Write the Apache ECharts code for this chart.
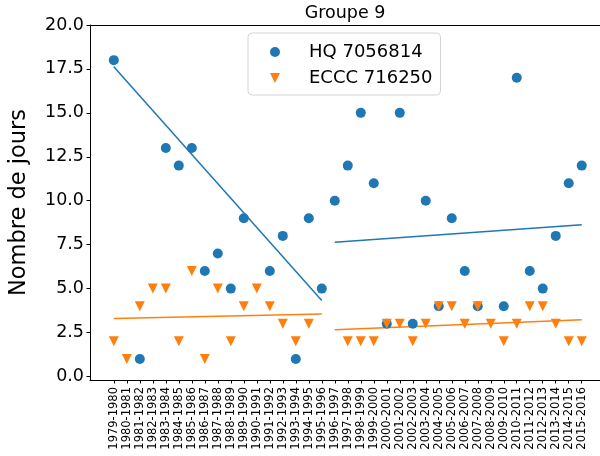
<!DOCTYPE html>
<html>
<head>
<meta charset="utf-8">
<script src="https://cdn.jsdelivr.net/npm/echarts@6/dist/echarts.min.js"></script>
<style>
  html, body { margin: 0; padding: 0; background: #fff; }
  #chart { width: 600px; height: 456px; }
</style>
</head>
<body>
<div id="chart"></div>
<script>
// Winter seasons
const seasons = [
  '1979-1980','1980-1981','1981-1982','1982-1983','1983-1984','1984-1985','1985-1986',
  '1986-1987','1987-1988','1988-1989','1989-1990','1990-1991','1991-1992','1992-1993',
  '1993-1994','1994-1995','1995-1996','1996-1997','1997-1998','1998-1999','1999-2000',
  '2000-2001','2001-2002','2002-2003','2003-2004','2004-2005','2005-2006','2006-2007',
  '2007-2008','2008-2009','2009-2010','2010-2011','2011-2012','2012-2013','2013-2014',
  '2014-2015','2015-2016'
];

// Number of days per season (null = no data)
const hqDays = [
  18, null, 1, null, 13, 12, 13, 6, 7, 5, 9, null, 6, 8, 1, 9, 5,
  10, 12, 15, 11, 3, 15, 3, 10, 4, 9, 6, 4, null, 4, 17, 6, 5, 8, 11, 12
];
const ecccDays = [
  2, 1, 4, 5, 5, 2, 6, 1, 5, 2, 4, 5, 4, 3, 2, 3, null,
  null, 2, 2, 2, 3, 3, 2, 3, 4, 4, 3, 4, 3, 2, 3, 4, 4, 3, 2, 2
];

// Trend segments per period: [startIndex, startValue, endIndex, endValue]
const hqTrend1 = [0, 17.63, 16, 4.32];
const hqTrend2 = [17, 7.64, 36, 8.63];
const ecccTrend1 = [0, 3.30, 16, 3.55];
const ecccTrend2 = [17, 2.66, 36, 3.23];

const yTicks = [0, 2.5, 5, 7.5, 10, 12.5, 15, 17.5, 20];

const BLUE = '#1f77b4';
const ORANGE = '#ff7f0e';
const FONT = 'DejaVu Sans';

const toPoints = arr => arr.map((v, i) => v == null ? null : [i, v]).filter(p => p);
const seg = s => [[s[0], s[1]], [s[2], s[3]]];
const xIdx = seasons.map((_, i) => i);

const chart = echarts.init(document.getElementById('chart'), null, { renderer: 'canvas' });

const trendLine = (data, color) => ({
  type: 'line',
  data: seg(data),
  showSymbol: false,
  symbol: 'none',
  silent: true,
  lineStyle: { color: color, width: 1.5 },
  z: 1,
  animation: false
});

// The plot frame runs past the right edge of the canvas, so only the
// left, bottom and top spines are drawn.
const X_MIN = -1.832;
const X_MAX = 37.405;

chart.setOption({
  animation: false,
  textStyle: { fontFamily: FONT },
  title: {
    text: 'Groupe 9',
    left: 345,
    textAlign: 'center',
    top: 4,
    padding: 0,
    textStyle: { fontFamily: FONT, fontSize: 17.5, fontWeight: 'normal', color: '#000' }
  },
  legend: {
    orient: 'vertical',
    left: 248,
    top: 33,
    padding: [10, 8, 8, 22],
    itemGap: 8,
    itemWidth: 10,
    itemHeight: 10,
    borderColor: '#d4d4d4',
    borderWidth: 1,
    borderRadius: 4,
    backgroundColor: 'rgba(255,255,255,0.8)',
    textStyle: { fontFamily: FONT, fontSize: 18, color: '#000', padding: [0, 0, 0, 24] },
    data: [
      { name: 'HQ 7056814', icon: 'circle' },
      { name: 'ECCC 716250', icon: 'path://M0,0 L10,0 L5,10 Z' }
    ]
  },
  grid: {
    left: 86,
    top: 25,
    width: 514,
    height: 355,
    show: false,
    containLabel: false
  },
  xAxis: [
    {
      type: 'value',
      min: X_MIN,
      max: X_MAX,
      position: 'bottom',
      splitLine: { show: false },
      axisLine: { show: true, onZero: false, lineStyle: { color: '#000', width: 1 } },
      axisTick: { show: true, customValues: xIdx, length: 3.5, lineStyle: { color: '#000', width: 1 } },
      axisLabel: {
        customValues: xIdx,
        formatter: v => seasons[Math.round(v)] || '',
        rotate: 90,
        margin: 7,
        fontFamily: FONT,
        fontSize: 11.5,
        color: '#000'
      }
    },
    {
      type: 'value',
      min: X_MIN,
      max: X_MAX,
      position: 'top',
      splitLine: { show: false },
      axisLine: { show: true, onZero: false, lineStyle: { color: '#000', width: 1 } },
      axisTick: { show: false },
      axisLabel: { show: false }
    }
  ],
  yAxis: {
    type: 'value',
    min: -0.2,
    max: 20,
    name: 'Nombre de jours',
    nameLocation: 'middle',
    nameGap: 59,
    nameTextStyle: { fontFamily: FONT, fontSize: 22.5, color: '#000' },
    splitLine: { show: false },
    axisLine: { show: true, onZero: false, lineStyle: { color: '#000', width: 1 } },
    axisTick: { show: true, customValues: yTicks, length: 3.5, lineStyle: { color: '#000', width: 1 } },
    axisLabel: {
      customValues: yTicks,
      formatter: v => v.toFixed(1),
      margin: 6,
      fontFamily: FONT,
      fontSize: 17.5,
      color: '#000'
    }
  },
  series: [
    {
      name: 'HQ 7056814',
      type: 'scatter',
      data: toPoints(hqDays),
      symbol: 'circle',
      symbolSize: 10,
      itemStyle: { color: BLUE, opacity: 1 },
      z: 2
    },
    {
      name: 'ECCC 716250',
      type: 'scatter',
      data: toPoints(ecccDays),
      symbol: 'triangle',
      symbolRotate: 180,
      symbolSize: 10,
      itemStyle: { color: ORANGE, opacity: 1 },
      z: 3
    },
    trendLine(hqTrend1, BLUE),
    trendLine(hqTrend2, BLUE),
    trendLine(ecccTrend1, ORANGE),
    trendLine(ecccTrend2, ORANGE)
  ]
});
</script>
</body>
</html>
